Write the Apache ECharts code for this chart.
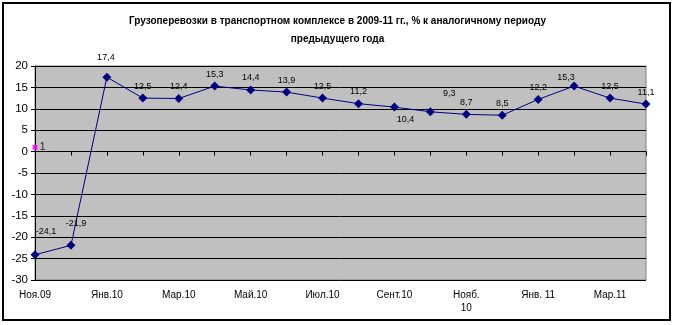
<!DOCTYPE html>
<html><head><meta charset="utf-8">
<script src="https://cdn.jsdelivr.net/npm/echarts@6/dist/echarts.min.js"></script>
<style>html,body{margin:0;padding:0;background:#fff}#c{width:675px;height:325px}</style>
</head><body><div id="c"></div>
<script>
const categories = ['Ноя.09','Дек.09','Янв.10','Фев.10','Мар.10','Апр.10','Май.10','Июн.10','Июл.10','Авг.10','Сент.10','Окт.10','Нояб.\n10','Дек.10','Янв. 11','Фев.11','Мар.11','Апр.11'];
const values = [-24.1,-21.9,17.4,12.5,12.4,15.3,14.4,13.9,12.5,11.2,10.4,9.3,8.7,8.5,12.2,15.3,12.5,11.1];
const markerValues = [1];
const titleText = 'Грузоперевозки в транспортном комплексе в 2009-11 гг., % к аналогичному периоду\nпредыдущего года';

const labelOffsets = {0:[11,-11], 1:[5,-10], 2:[-1,-8], 10:[11,24], 11:[19,-6], 15:[-8,3]};
const lineData = values.map((v,i)=>{
  const d = {value:v};
  if (labelOffsets[i]) d.label = {offset: labelOffsets[i]};
  return d;
});
const fmt = p => String(p.value).replace('.', ',');
const chart = echarts.init(document.getElementById('c'));
chart.setOption({
  animation:false,
  backgroundColor:'#fff',
  title:{text:titleText,left:'center',top:7,textStyle:{fontFamily:'Liberation Sans, Arial',fontSize:10,fontWeight:'bold',color:'#000',lineHeight:18}},
  graphic:[{type:'rect',shape:{x:3,y:3,width:667,height:317},style:{fill:'none',stroke:'#000',lineWidth:2},silent:true,z:-1}],
  grid:{left:35,right:29,top:66,bottom:45,show:true,backgroundColor:'#c0c0c0',borderColor:'#808080',borderWidth:1},
  xAxis:{type:'category',data:categories,boundaryGap:false,
    axisLine:{lineStyle:{color:'#000',width:1}},
    axisTick:{show:true,interval:0,length:4,lineStyle:{color:'#000'}},
    axisLabel:{interval:1,color:'#000',fontFamily:'Liberation Sans, Arial',fontSize:10,margin:9,lineHeight:13},
    splitLine:{show:false}},
  yAxis:{type:'value',min:-30,max:20,interval:5,
    axisLine:{show:true,lineStyle:{color:'#000',width:1}},
    axisTick:{show:true,length:4,lineStyle:{color:'#000'}},
    axisLabel:{color:'#000',fontFamily:'Liberation Sans, Arial',fontSize:11.5,margin:7},
    splitLine:{lineStyle:{color:'#000',width:1}}},
  series:[
    {type:'line',data:lineData,symbol:'diamond',symbolSize:9,
      lineStyle:{color:'#000080',width:1},itemStyle:{color:'#000080'},
      label:{show:true,position:'top',distance:3,formatter:fmt,color:'#000',fontFamily:'Liberation Sans, Arial',fontSize:9}},
    {type:'scatter',data:markerValues.map((v,i)=>[i,v]),symbol:'rect',symbolSize:5,
      itemStyle:{color:'#ff00ff'},
      label:{show:true,position:'right',distance:2,formatter:p=>String(p.value[1]),color:'#000',fontFamily:'Liberation Sans, Arial',fontSize:11}}
  ]
});
</script></body></html>
